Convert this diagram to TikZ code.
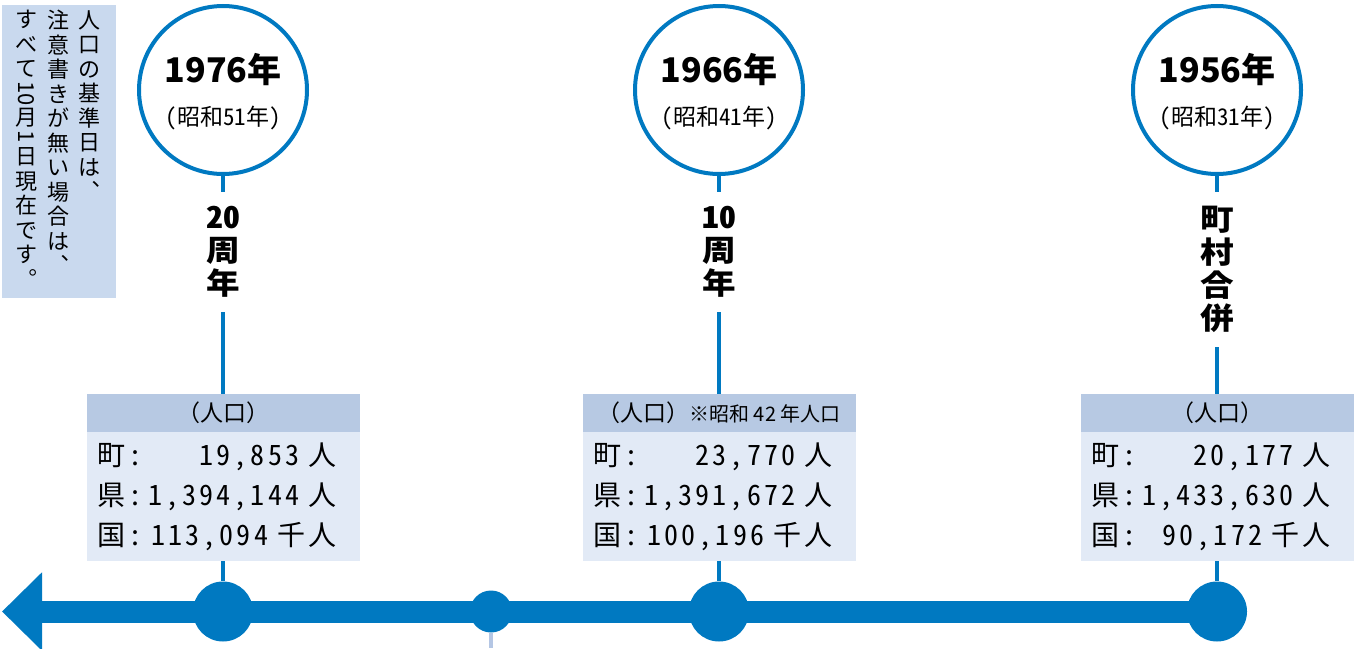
\documentclass[tikz,border=0pt]{standalone}
\usepackage{graphicx}
\usepackage{fontspec}
\setmainfont{Noto Sans CJK JP}
\newfontfamily\hwfont{Noto Sans CJK JP}[RawFeature = +hwid]
\newfontfamily\numfont{Noto Sans CJK JP}[RawFeature = +hwid, LetterSpace = 11]
\newfontfamily\tatefont{Noto Sans CJK JP}[RawFeature = +hwid, FakeStretch = 1.12]
\usetikzlibrary{positioning}
\usetikzlibrary{arrows.meta}
\setlength{\parindent}{0pt}
\definecolor{tlblue}{RGB}{0, 121, 193}
\definecolor{headblue}{RGB}{183, 201, 227}
\definecolor{bodyblue}{RGB}{226, 234, 246}
\definecolor{noteblue}{RGB}{201, 217, 238}
\definecolor{tickgray}{RGB}{180, 198, 228}
\tikzset{yearcirc/.style = {draw = tlblue, line width = 2pt, circle, fill = white, inner sep = 0, minimum size = 84pt}}
\tikzset{yeartxt/.style = {anchor = base, inner sep = 0, font = \bfseries\fontsize{17pt}{20pt}\selectfont}}
\tikzset{showatxt/.style = {anchor = base, inner sep = 0, font = \hwfont\fontsize{11.5pt}{14pt}\selectfont}}
\tikzset{tldot/.style = {fill = tlblue, circle, inner sep = 0, minimum size = 30pt}}
\tikzset{smalldot/.style = {fill = tlblue, circle, inner sep = 0, minimum size = 21pt}}
\tikzset{conn/.style = {draw = tlblue, line width = 1.75pt}}
\tikzset{headbox/.style = {fill = headblue, inner sep = 0, outer sep = 0, minimum width = 136.5pt, minimum height = 19pt, font = \fontsize{11.5pt}{14pt}\selectfont}}
\tikzset{popbox/.style = {fill = bodyblue, inner sep = 0, outer sep = 0, text width = 136.5pt, minimum height = 64.5pt, align = left, font = \numfont\fontsize{14pt}{20pt}\selectfont}}
\tikzset{tatelbl/.style = {fill = white, inner xsep = 2pt, inner ysep = 7pt, align = center, font = \tatefont\bfseries\fontsize{15pt}{16.5pt}\selectfont}}
\tikzset{notebox/.style = {fill = noteblue, inner sep = 0, minimum width = 57pt, minimum height = 146.5pt}}
\tikzset{notecol/.style = {inner sep = 0, align = center, anchor = north, font = \fontsize{11pt}{12.25pt}\selectfont}}
\newcommand{\poprow}[2]{\hspace*{5.5pt}\makebox[24.5pt][l]{#1}\makebox[95pt][r]{#2}}

\begin{document}
\begin{tikzpicture}[x = 0.5pt, y = -0.5pt]
  \useasboundingbox (0, 0) rectangle (1360, 648);

  \node [notebox] (note) at (59, 151.5) {};
  \node [notecol] (n1) at (89, 10) {人\\口\\の\\基\\準\\日\\は\\︑};
  \node [notecol] (n2) at (58, 10) {注\\意\\書\\き\\が\\無\\い\\場\\合\\は\\︑};
  \node [notecol] (n3) at (26, 10) {す\\べ\\て\\\rotatebox[origin = c]{-90}{10}\\月\\[-3pt]\rotatebox[origin = c]{-90}{1}\\[-2pt]日\\現\\在\\で\\す\\︒};

  \coordinate (tip) at (2, 611.5);
  \coordinate (low) at (491, 648);

  \foreach \n/\x/\yr/\sh in {1/223/1976/51, 2/719/1966/41, 3/1217/1956/31} {
    \node [yearcirc] (c\n) at (\x, 90) {};
    \node [yeartxt] (y\n) at ([yshift = 4pt]c\n.center) {\yr 年};
    \node [showatxt] (s\n) at ([yshift = -17.5pt]c\n.center) {(昭和\sh 年)};
    \node [tldot] (d\n) at (\x, 611.5) {};
  }
  \node [smalldot] (d0) at (491, 611.5) {};

  \draw [tlblue, line width = 11pt, -{Triangle[length = 20pt, width = 38pt]}] (d3.center) -- (tip);
  \draw [tickgray, line width = 1.75pt] (d0) -- (low);

  \node [headbox] (h1) at (223, 413) {（人口）};
  \node [popbox, below = 0pt of h1] (p1) {\poprow{町：}{19,853 人}\\\poprow{県：}{1,394,144 人}\\\poprow{国：}{113,094 千人}};
  \node [headbox] (h2) at (719, 413) {（人口）{\fontsize{10pt}{12pt}\selectfont ※昭和 42 年人口}};
  \node [popbox, below = 0pt of h2] (p2) {\poprow{町：}{23,770 人}\\\poprow{県：}{1,391,672 人}\\\poprow{国：}{100,196 千人}};
  \node [headbox] (h3) at (1217, 413) {（人口）};
  \node [popbox, below = 0pt of h3] (p3) {\poprow{町：}{20,177 人}\\\poprow{県：}{1,433,630 人}\\\poprow{国：}{90,172 千人}};

  \foreach \n in {1, 2, 3} {
    \draw [conn] (c\n) -- (h\n);
    \draw [conn] (p\n) -- (d\n);
  }

  \node [tatelbl, below = 8pt of c1] (t1) {20\\周\\年};
  \node [tatelbl, below = 8pt of c2] (t2) {10\\周\\年};
  \node [tatelbl, below = 8pt of c3] (t3) {町\\村\\合\\併};
\end{tikzpicture}
\end{document}
